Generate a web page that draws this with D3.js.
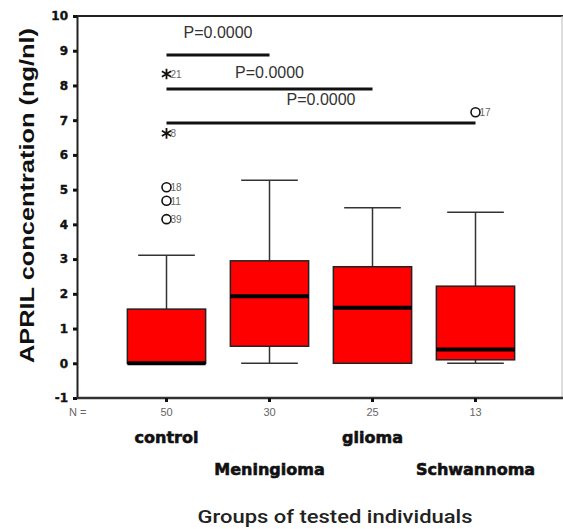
<!DOCTYPE html>
<html>
<head>
<meta charset="utf-8">
<script src="https://cdn.jsdelivr.net/npm/d3@7"></script>
<style>
  body { margin: 0; background: #fff; }
  svg { display: block; }
</style>
</head>
<body>
<svg id="chart"></svg>
<script>
const width = 563;
const height = 529;

// groups and box statistics
const categories = ["control", "Meningioma", "glioma", "Schwannoma"];
const nCounts = [50, 30, 25, 13];
const whiskerLow = [0, 0, 0, 0];
const q1 = [0, 0.49, 0, 0.1];
const medians = [0, 1.93, 1.6, 0.4];
const q3 = [1.56, 2.95, 2.78, 2.22];
const whiskerHigh = [3.11, 5.27, 4.48, 4.35];

// outliers: o = circle, e = extreme (asterisk)
const outliers = [
  { group: "control", value: 8.33, id: "21", kind: "e" },
  { group: "control", value: 6.62, id: "8", kind: "e" },
  { group: "control", value: 5.07, id: "18", kind: "o" },
  { group: "control", value: 4.68, id: "11", kind: "o" },
  { group: "control", value: 4.15, id: "39", kind: "o" },
  { group: "Schwannoma", value: 7.23, id: "17", kind: "o" },
];

// significance brackets from control to each group
const comparisons = [
  { to: "Meningioma", level: 8.88, labelLevel: 9.37, text: "P=0.0000" },
  { to: "glioma", level: 7.9, labelLevel: 8.22, text: "P=0.0000" },
  { to: "Schwannoma", level: 6.92, labelLevel: 7.44, text: "P=0.0000" },
];

const yTicks = d3.range(-1, 11);

const boldFont = `"DejaVu Sans", sans-serif`;
const thinFont = `"Liberation Sans Narrow", "Liberation Sans", Arial, sans-serif`;

const plotLeft = 77;
const plotRight = 563;
const plotTop = 16;
const plotBottom = 398;

const svg = d3.select("#chart").attr("width", width).attr("height", height);

const x = d3.scaleBand().domain(categories).range([115, 527]);
const y = d3.scaleLinear().domain([-1, 10]).range([plotBottom, plotTop]);
const cx = (c) => x(c) + x.bandwidth() / 2;
const boxW = x.bandwidth() * 0.76;
const capW = x.bandwidth() * 0.55;

// frame: top line and faint right edge
svg.append("line")
  .attr("x1", plotLeft).attr("x2", plotRight)
  .attr("y1", plotTop).attr("y2", plotTop)
  .attr("stroke", "#222").attr("stroke-width", 2);
svg.append("line")
  .attr("x1", plotRight - 1).attr("x2", plotRight - 1)
  .attr("y1", plotTop).attr("y2", plotBottom)
  .attr("stroke", "#bbb").attr("stroke-width", 1);

// y axis
const yAxis = svg.append("g")
  .attr("transform", `translate(${plotLeft},0)`)
  .call(
    d3.axisLeft(y)
      .tickValues(yTicks)
      .tickFormat((d) => String(d))
      .tickSize(4)
      .tickSizeOuter(0)
      .tickPadding(5),
  );
yAxis.select(".domain").attr("stroke", "#222").attr("stroke-width", 2);
yAxis.selectAll(".tick line").attr("stroke", "#111").attr("stroke-width", 3);
yAxis.selectAll(".tick text")
  .attr("font-family", boldFont)
  .attr("font-weight", "bold")
  .attr("font-size", 12)
  .attr("fill", "#111")
  .attr("stroke", "#111")
  .attr("stroke-width", 0.4);

// x axis
const xAxis = svg.append("g")
  .attr("transform", `translate(0,${plotBottom})`);
xAxis.append("line")
  .attr("x1", plotLeft).attr("x2", plotRight)
  .attr("stroke", "#333").attr("stroke-width", 2.5);
xAxis.selectAll(".xtick")
  .data(categories)
  .enter()
  .append("line")
  .attr("x1", cx).attr("x2", cx)
  .attr("y1", 0).attr("y2", 4)
  .attr("stroke", "#111").attr("stroke-width", 3);

// N counts
svg.append("text")
  .attr("x", 69).attr("y", 416)
  .attr("font-family", thinFont).attr("font-size", 11)
  .attr("fill", "#666")
  .text("N =");
svg.selectAll(".ncount")
  .data(categories)
  .enter()
  .append("text")
  .attr("x", cx).attr("y", 416)
  .attr("text-anchor", "middle")
  .attr("font-family", thinFont).attr("font-size", 11)
  .attr("fill", "#666")
  .text((d, i) => nCounts[i]);

// category names on two staggered rows
svg.selectAll(".cat")
  .data(categories)
  .enter()
  .append("text")
  .attr("x", cx)
  .attr("y", (d, i) => (i % 2 ? 475 : 443))
  .attr("text-anchor", "middle")
  .attr("font-family", boldFont)
  .attr("font-weight", "bold")
  .attr("font-size", 16)
  .attr("fill", "#111")
  .attr("stroke", "#111")
  .attr("stroke-width", 0.6)
  .text((d) => d);

// axis titles
svg.append("text")
  .attr("x", 335).attr("y", 523)
  .attr("text-anchor", "middle")
  .attr("font-family", `Roboto, "Liberation Sans", sans-serif`)
  .attr("font-weight", 500)
  .attr("font-size", 19)
  .attr("fill", "#222")
  .attr("textLength", 275)
  .attr("lengthAdjust", "spacingAndGlyphs")
  .text("Groups of tested individuals");

svg.append("text")
  .attr("transform", `translate(34,${(28 + 363) / 2}) rotate(-90)`)
  .attr("text-anchor", "middle")
  .attr("font-family", `"Liberation Sans", Arial, sans-serif`)
  .attr("font-weight", "bold")
  .attr("font-size", 21)
  .attr("fill", "#111")
  .attr("textLength", 335)
  .attr("lengthAdjust", "spacingAndGlyphs")
  .text("APRIL concentration (ng/nl)");

// boxes
const boxes = svg.append("g").attr("id", "boxes");
const box = boxes.selectAll(".box")
  .data(categories)
  .enter()
  .append("g")
  .attr("class", "box");

box.append("line")
  .attr("x1", cx).attr("x2", cx)
  .attr("y1", (d, i) => y(q3[i])).attr("y2", (d, i) => y(whiskerHigh[i]))
  .attr("stroke", "#333").attr("stroke-width", 1.5);
box.append("line")
  .attr("x1", cx).attr("x2", cx)
  .attr("y1", (d, i) => y(q1[i])).attr("y2", (d, i) => y(whiskerLow[i]))
  .attr("stroke", "#333").attr("stroke-width", 1.5);
box.append("line")
  .attr("x1", (d) => cx(d) - capW / 2).attr("x2", (d) => cx(d) + capW / 2)
  .attr("y1", (d, i) => y(whiskerHigh[i])).attr("y2", (d, i) => y(whiskerHigh[i]))
  .attr("stroke", "#333").attr("stroke-width", 1.5);
box.append("line")
  .attr("x1", (d) => cx(d) - capW / 2).attr("x2", (d) => cx(d) + capW / 2)
  .attr("y1", (d, i) => y(whiskerLow[i])).attr("y2", (d, i) => y(whiskerLow[i]))
  .attr("stroke", "#333").attr("stroke-width", 1.5);
box.append("rect")
  .attr("x", (d) => cx(d) - boxW / 2)
  .attr("width", boxW)
  .attr("y", (d, i) => y(q3[i]))
  .attr("height", (d, i) => y(q1[i]) - y(q3[i]))
  .attr("fill", "#ff0000")
  .attr("stroke", "#222")
  .attr("stroke-width", 1.5);
box.append("line")
  .attr("x1", (d) => cx(d) - boxW / 2).attr("x2", (d) => cx(d) + boxW / 2)
  .attr("y1", (d, i) => y(medians[i])).attr("y2", (d, i) => y(medians[i]))
  .attr("stroke", "#000").attr("stroke-width", 4);

// outliers
const out = svg.append("g").attr("id", "outliers")
  .selectAll(".outlier")
  .data(outliers)
  .enter()
  .append("g")
  .attr("transform", (d) => `translate(${cx(d.group)},${y(d.value)})`);

out.filter((d) => d.kind === "o")
  .append("circle")
  .attr("r", 4.5)
  .attr("fill", "none")
  .attr("stroke", "#111")
  .attr("stroke-width", 1.6);

out.filter((d) => d.kind === "e")
  .append("path")
  .attr("d", d3.symbol(d3.symbolAsterisk, 80))
  .attr("fill", "none")
  .attr("stroke", "#111")
  .attr("stroke-width", 1.8);

out.append("text")
  .attr("x", 4)
  .attr("y", 4)
  .attr("font-family", thinFont)
  .attr("font-size", 10)
  .attr("fill", "#666")
  .text((d) => d.id);

// significance brackets
const sig = svg.append("g").attr("id", "significance")
  .selectAll(".sig")
  .data(comparisons)
  .enter()
  .append("g");

sig.append("line")
  .attr("x1", cx("control"))
  .attr("x2", (d) => cx(d.to))
  .attr("y1", (d) => y(d.level)).attr("y2", (d) => y(d.level))
  .attr("stroke", "#111").attr("stroke-width", 3);

sig.append("text")
  .attr("x", (d) => (cx("control") + cx(d.to)) / 2)
  .attr("y", (d) => y(d.labelLevel))
  .attr("text-anchor", "middle")
  .attr("font-family", `"Liberation Sans", Arial, sans-serif`)
  .attr("font-size", 16)
  .attr("fill", "#333")
  .text((d) => d.text);
</script>
</body>
</html>
